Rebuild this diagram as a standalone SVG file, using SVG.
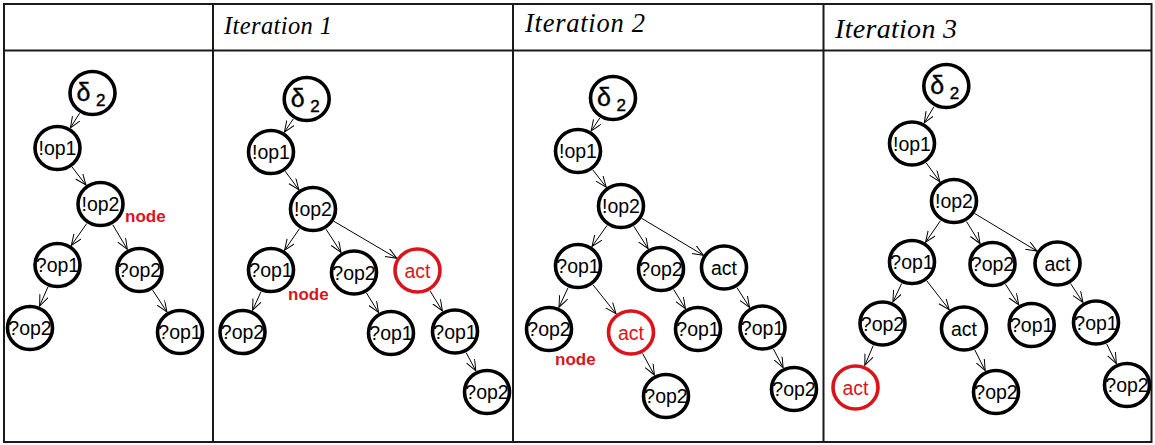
<svg xmlns="http://www.w3.org/2000/svg" width="1155" height="445" viewBox="0 0 1155 445">
<defs>
<marker id="ah" markerUnits="userSpaceOnUse" markerWidth="13" markerHeight="11" refX="11" refY="4.5" orient="auto">
<path d="M0,0 L11,4.5 L0,9" fill="none" stroke="#000" stroke-width="1"/>
</marker>
</defs>
<style>
.grid{stroke:#1a1a1a;stroke-width:2;fill:none}
.hd{font-family:"Liberation Serif","Times New Roman",serif;font-style:italic;fill:#000}
.c{fill:#fff;stroke:#000;stroke-width:3.6}
.c.red{stroke:#d9141b}
.t{font-family:"Liberation Sans",Arial,sans-serif;font-size:19.5px;text-anchor:middle;fill:#000}
.t.red{fill:#d9141b}
.d{font-family:"Liberation Sans",Arial,sans-serif;font-size:25px;fill:#000;stroke:#000;stroke-width:0.4}
.d2{font-size:17px}
.nl{font-family:"Liberation Sans",Arial,sans-serif;font-size:17px;font-weight:bold;fill:#d9141b}
.e line{stroke:#000;stroke-width:1;marker-end:url(#ah)}
</style>
<rect width="1155" height="445" fill="#fff"/>
<g id="table">
<rect class="grid" x="4" y="4" width="1147.5" height="438"/>
<line class="grid" x1="4" y1="50.5" x2="1151.5" y2="50.5"/>
<line class="grid" x1="213" y1="4" x2="213" y2="442"/>
<line class="grid" x1="513" y1="4" x2="513" y2="442"/>
<line class="grid" x1="823.5" y1="4" x2="823.5" y2="442"/>
<text class="hd" x="224" y="34.3" font-size="24.5" textLength="108" lengthAdjust="spacing">Iteration 1</text>
<text class="hd" x="525" y="32.3" font-size="26.5" textLength="120" lengthAdjust="spacing">Iteration 2</text>
<text class="hd" x="835" y="37.5" font-size="28" textLength="122" lengthAdjust="spacing">Iteration 3</text>
</g>
<g id="connectors" class="e">
<line x1="79.6" y1="113.2" x2="70.4" y2="127.8"/>
<line x1="72.1" y1="167" x2="85.9" y2="185"/>
<line x1="86.7" y1="223.6" x2="71.3" y2="245.4"/>
<line x1="112.7" y1="224.7" x2="127.3" y2="249.3"/>
<line x1="47.9" y1="287" x2="39.6" y2="306"/>
<line x1="152.6" y1="290.1" x2="166.9" y2="311.9"/>

<line x1="293.3" y1="118.9" x2="284.4" y2="132.1"/>
<line x1="285.2" y1="171.3" x2="298.8" y2="189.7"/>
<line x1="299.4" y1="228.8" x2="284.6" y2="250.2"/>
<line x1="326" y1="229.2" x2="341" y2="252.3"/>
<line x1="333.7" y1="221.2" x2="396.8" y2="258.3"/>
<line x1="261" y1="291.8" x2="252.5" y2="310.2"/>
<line x1="366.5" y1="293" x2="378.5" y2="312.5"/>
<line x1="430.1" y1="291" x2="442.4" y2="311"/>
<line x1="466.2" y1="352.7" x2="475.8" y2="370.8"/>

<line x1="599.8" y1="118" x2="591.2" y2="131"/>
<line x1="592.8" y1="169.9" x2="606.2" y2="187.1"/>
<line x1="607" y1="225.5" x2="592" y2="246.5"/>
<line x1="633.9" y1="226.3" x2="648.1" y2="248.7"/>
<line x1="641.6" y1="218.3" x2="703.4" y2="255.2"/>
<line x1="568" y1="287.8" x2="559" y2="307.2"/>
<line x1="593" y1="284.8" x2="616" y2="313.7"/>
<line x1="673.6" y1="289.4" x2="685.4" y2="308.6"/>
<line x1="737" y1="287.7" x2="749.5" y2="307.3"/>
<line x1="642.6" y1="353.5" x2="654.4" y2="375"/>
<line x1="773.4" y1="348.9" x2="783.1" y2="367.6"/>

<line x1="934" y1="106.6" x2="924.3" y2="122.9"/>
<line x1="926.2" y1="162.9" x2="939.8" y2="181.6"/>
<line x1="940.4" y1="220.8" x2="925.6" y2="242.2"/>
<line x1="966.5" y1="221.5" x2="980" y2="243.5"/>
<line x1="974.5" y1="213.4" x2="1037" y2="251.1"/>
<line x1="901.6" y1="283.6" x2="892.9" y2="301.9"/>
<line x1="926.8" y1="280.9" x2="949.2" y2="309.6"/>
<line x1="1005.5" y1="284.2" x2="1018.7" y2="304.8"/>
<line x1="1070.6" y1="283.6" x2="1082.9" y2="302.4"/>
<line x1="873.2" y1="345.6" x2="864.8" y2="365.4"/>
<line x1="974.8" y1="349.9" x2="985.2" y2="370.6"/>
<line x1="1106.7" y1="344" x2="1116.3" y2="363.5"/>
</g>

<!-- Panel 0 -->
<g id="p0-delta2"><ellipse class="c" cx="92.5" cy="93" rx="22.5" ry="21.5"/><text class="d" x="76.5" y="100.5">δ<tspan class="d2" x="96" y="105.5">2</tspan></text></g>
<g id="p0-op1a"><ellipse class="c" cx="57.5" cy="148" rx="22.5" ry="21.5"/><text class="t" x="57.5" y="155">!op1</text></g>
<g id="p0-op2a"><ellipse class="c" cx="100.5" cy="204" rx="22.5" ry="21.5"/><text class="t" x="100.5" y="211">!op2</text></g>
<g id="p0-q1"><ellipse class="c" cx="57.5" cy="265" rx="22.5" ry="21.5"/><text class="t" x="57.5" y="272">?op1</text></g>
<g id="p0-q2"><ellipse class="c" cx="139.5" cy="270" rx="22.5" ry="21.5"/><text class="t" x="139.5" y="277">?op2</text></g>
<g id="p0-q1q2"><ellipse class="c" cx="30" cy="328" rx="22.5" ry="21.5"/><text class="t" x="30" y="335">?op2</text></g>
<g id="p0-q2q1"><ellipse class="c" cx="180" cy="332" rx="22.5" ry="21.5"/><text class="t" x="180" y="339">?op1</text></g>
<text id="p0-node" class="nl" x="125" y="221.5">node</text>

<!-- Panel 1 -->
<g id="p1-delta2"><ellipse class="c" cx="306.7" cy="99" rx="22.5" ry="21.5"/><text class="d" x="290.7" y="106.5">δ<tspan class="d2" x="310.2" y="111.5">2</tspan></text></g>
<g id="p1-op1a"><ellipse class="c" cx="271" cy="152" rx="22.5" ry="21.5"/><text class="t" x="271" y="159">!op1</text></g>
<g id="p1-op2a"><ellipse class="c" cx="313" cy="209" rx="22.5" ry="21.5"/><text class="t" x="313" y="216">!op2</text></g>
<g id="p1-q1"><ellipse class="c" cx="271" cy="270" rx="22.5" ry="21.5"/><text class="t" x="271" y="277">?op1</text></g>
<g id="p1-q2"><ellipse class="c" cx="354" cy="272.5" rx="22.5" ry="21.5"/><text class="t" x="354" y="279.5">?op2</text></g>
<g id="p1-act"><ellipse class="c red" cx="417.5" cy="270.5" rx="22.5" ry="21.5"/><text class="t red" x="417.5" y="277.5">act</text></g>
<g id="p1-q1q2"><ellipse class="c" cx="242.5" cy="332" rx="22.5" ry="21.5"/><text class="t" x="242.5" y="339">?op2</text></g>
<g id="p1-q2q1"><ellipse class="c" cx="391" cy="333" rx="22.5" ry="21.5"/><text class="t" x="391" y="340">?op1</text></g>
<g id="p1-actq1"><ellipse class="c" cx="455" cy="331.5" rx="22.5" ry="21.5"/><text class="t" x="455" y="338.5">?op1</text></g>
<g id="p1-actq1q2"><ellipse class="c" cx="487" cy="392" rx="22.5" ry="21.5"/><text class="t" x="487" y="399">?op2</text></g>
<text id="p1-node" class="nl" x="288" y="300">node</text>

<!-- Panel 2 -->
<g id="p2-delta2"><ellipse class="c" cx="613" cy="98" rx="22.5" ry="21.5"/><text class="d" x="597" y="105.5">δ<tspan class="d2" x="616.5" y="110.5">2</tspan></text></g>
<g id="p2-op1a"><ellipse class="c" cx="578" cy="151" rx="22.5" ry="21.5"/><text class="t" x="578" y="158">!op1</text></g>
<g id="p2-op2a"><ellipse class="c" cx="621" cy="206" rx="22.5" ry="21.5"/><text class="t" x="621" y="213">!op2</text></g>
<g id="p2-q1"><ellipse class="c" cx="578" cy="266" rx="22.5" ry="21.5"/><text class="t" x="578" y="273">?op1</text></g>
<g id="p2-q2"><ellipse class="c" cx="661" cy="269" rx="22.5" ry="21.5"/><text class="t" x="661" y="276">?op2</text></g>
<g id="p2-act"><ellipse class="c" cx="724" cy="267.5" rx="22.5" ry="21.5"/><text class="t" x="724" y="274.5">act</text></g>
<g id="p2-q1q2"><ellipse class="c" cx="549" cy="329" rx="22.5" ry="21.5"/><text class="t" x="549" y="336">?op2</text></g>
<g id="p2-q1act"><ellipse class="c red" cx="631" cy="332.5" rx="22.5" ry="21.5"/><text class="t red" x="631" y="339.5">act</text></g>
<g id="p2-q2q1"><ellipse class="c" cx="698" cy="329" rx="22.5" ry="21.5"/><text class="t" x="698" y="336">?op1</text></g>
<g id="p2-actq1"><ellipse class="c" cx="762.5" cy="327.5" rx="22.5" ry="21.5"/><text class="t" x="762.5" y="334.5">?op1</text></g>
<g id="p2-q1actq2"><ellipse class="c" cx="666" cy="396" rx="22.5" ry="21.5"/><text class="t" x="666" y="403">?op2</text></g>
<g id="p2-actq1q2"><ellipse class="c" cx="794" cy="389" rx="22.5" ry="21.5"/><text class="t" x="794" y="396">?op2</text></g>
<text id="p2-node" class="nl" x="555" y="365">node</text>

<!-- Panel 3 -->
<g id="p3-delta2"><ellipse class="c" cx="946.3" cy="86" rx="22.5" ry="21.5"/><text class="d" x="930.3" y="93.5">δ<tspan class="d2" x="949.8" y="98.5">2</tspan></text></g>
<g id="p3-op1a"><ellipse class="c" cx="912" cy="143.5" rx="22.5" ry="21.5"/><text class="t" x="912" y="150.5">!op1</text></g>
<g id="p3-op2a"><ellipse class="c" cx="954" cy="201" rx="22.5" ry="21.5"/><text class="t" x="954" y="208">!op2</text></g>
<g id="p3-q1"><ellipse class="c" cx="912" cy="262" rx="22.5" ry="21.5"/><text class="t" x="912" y="269">?op1</text></g>
<g id="p3-q2"><ellipse class="c" cx="992.5" cy="264" rx="22.5" ry="21.5"/><text class="t" x="992.5" y="271">?op2</text></g>
<g id="p3-act"><ellipse class="c" cx="1057.5" cy="263.5" rx="22.5" ry="21.5"/><text class="t" x="1057.5" y="270.5">act</text></g>
<g id="p3-q1q2"><ellipse class="c" cx="882.5" cy="323.5" rx="22.5" ry="21.5"/><text class="t" x="882.5" y="330.5">?op2</text></g>
<g id="p3-q1act"><ellipse class="c" cx="964" cy="328.5" rx="22.5" ry="21.5"/><text class="t" x="964" y="335.5">act</text></g>
<g id="p3-q2q1"><ellipse class="c" cx="1031.7" cy="325" rx="22.5" ry="21.5"/><text class="t" x="1031.7" y="332">?op1</text></g>
<g id="p3-actq1"><ellipse class="c" cx="1096" cy="322.5" rx="22.5" ry="21.5"/><text class="t" x="1096" y="329.5">?op1</text></g>
<g id="p3-q1q2act"><ellipse class="c red" cx="855.5" cy="387.5" rx="22.5" ry="21.5"/><text class="t red" x="855.5" y="394.5">act</text></g>
<g id="p3-q1actq2"><ellipse class="c" cx="996" cy="392" rx="22.5" ry="21.5"/><text class="t" x="996" y="399">?op2</text></g>
<g id="p3-actq1q2"><ellipse class="c" cx="1127" cy="385" rx="22.5" ry="21.5"/><text class="t" x="1127" y="392">?op2</text></g>
</svg>
